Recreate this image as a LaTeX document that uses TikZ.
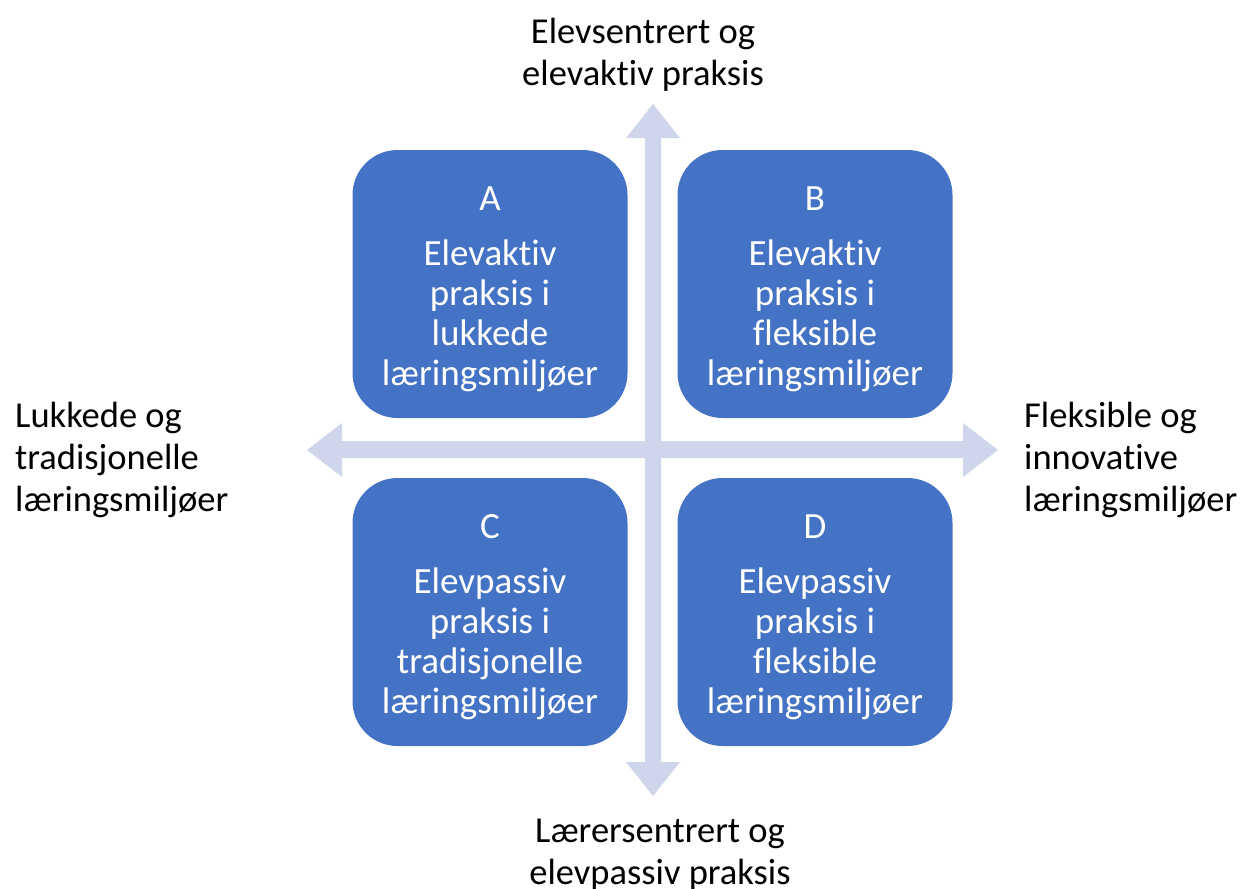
\documentclass[tikz,border=0pt]{standalone}
\usepackage{fontspec}
\setmainfont[RawFeature=-liga]{Carlito}
\definecolor{boxblue}{HTML}{4472C4}
\definecolor{axis}{HTML}{CFD5EA}
\begin{document}
\begin{tikzpicture}[x=1pt,y=-1pt,
  quad/.style={fill=boxblue, rounded corners=45pt, minimum width=275pt, minimum height=268pt, inner sep=0pt, text=white, align=center, font=\fontsize{37}{40}\selectfont},
  lbl/.style={inner sep=0pt, font=\fontsize{36.5}{42}\selectfont}]
\useasboundingbox (0,0) rectangle (1240,889);
% axes
\fill[axis] (645,138) -- (626,138) -- (653,104) -- (680,138) -- (661,138) -- (661,762) -- (680,762) -- (653,796) -- (626,762) -- (645,762) -- cycle;
\fill[axis] (342,441) -- (342,423) -- (307,450) -- (342,477) -- (342,458) -- (963,458) -- (963,477) -- (998,450) -- (963,423) -- (963,441) -- cycle;
% boxes
\node[quad] (A) at (490,284) {};
\node[quad] (B) at (815,284) {};
\node[quad] (C) at (490,612) {};
\node[quad] (D) at (815,612) {};
\node[text=white, align=center, inner sep=0pt, font=\fontsize{37}{40}\selectfont] (At) at ([yshift=-5pt]A) {A\\[15pt]Elevaktiv\\praksis i\\lukkede\\læringsmiljøer};
\node[text=white, align=center, inner sep=0pt, font=\fontsize{37}{40}\selectfont] (Bt) at ([yshift=-5pt]B) {B\\[15pt]Elevaktiv\\praksis i\\fleksible\\læringsmiljøer};
\node[text=white, align=center, inner sep=0pt, font=\fontsize{37}{40}\selectfont] (Ct) at ([yshift=-5pt]C) {C\\[15pt]Elevpassiv\\praksis i\\tradisjonelle\\læringsmiljøer};
\node[text=white, align=center, inner sep=0pt, font=\fontsize{37}{40}\selectfont] (Dt) at ([yshift=-5pt]D) {D\\[15pt]Elevpassiv\\praksis i\\fleksible\\læringsmiljøer};
% labels
\node[lbl, align=center] (top) at (643,55) {Elevsentrert og\\elevaktiv praksis};
\node[lbl, align=center] (bot) at (660,855) {Lærersentrert og\\elevpassiv praksis};
\node[lbl, align=left, anchor=west] (left) at (15,460) {Lukkede og\\tradisjonelle\\læringsmiljøer};
\node[lbl, align=left, anchor=west] (right) at (1024,460) {Fleksible og\\innovative\\læringsmiljøer};
\end{tikzpicture}
\end{document}
